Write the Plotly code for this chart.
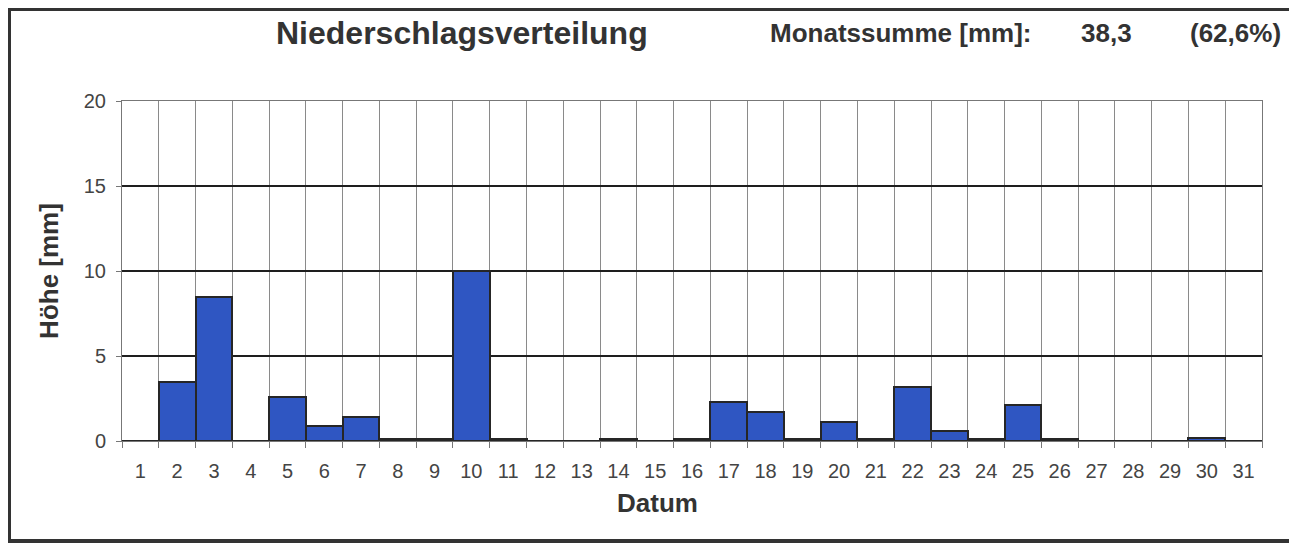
import plotly.graph_objects as go

days = list(range(1, 32))
day_labels = [str(d) for d in days]
rain_mm = [0.0, 3.5, 8.5, 0.0, 2.6, 0.9, 1.4, 0.1, 0.1, 10.0,
           0.1, 0.0, 0.0, 0.1, 0.0, 0.1, 2.3, 1.7, 0.1, 1.1,
           0.1, 3.2, 0.6, 0.1, 2.1, 0.1, 0.0, 0.0, 0.0, 0.2, 0.0]
y_ticks = [0, 5, 10, 15, 20]
title_text = "Niederschlagsverteilung"
sum_label = "Monatssumme [mm]:"
sum_value = "38,3"
sum_pct = "(62,6%)"
x_title = "Datum"
y_title = "Höhe [mm]"

OFF = 8  # page body margin
W, H = 1297 - OFF, 546 - OFF
L, R, T, B = 122 - OFF, 35, 101 - OFF, 105
pw, ph = W - L - R, H - T - B

def px(x):
    return (x - OFF - L) / pw

def py(y):
    return (H - B - (y - OFF)) / ph

FONT = "Liberation Sans, Arial, sans-serif"
TXT = "#333"

fig = go.Figure()
# invisible trace on yaxis2 so its grid renders
fig.add_trace(go.Scatter(x=[days[0]], y=[0], yaxis="y2", mode="markers",
                         marker=dict(opacity=0), showlegend=False, hoverinfo="skip"))
fig.add_trace(go.Bar(
    x=days, y=rain_mm, width=1.0,
    marker=dict(color="#2f56c2", line=dict(color="#262626", width=2)),
    showlegend=False, hoverinfo="x+y",
))

fig.update_layout(
    width=W, height=H,
    margin=dict(l=L, r=R, t=T, b=B),
    paper_bgcolor="white", plot_bgcolor="white",
    font=dict(family=FONT, color=TXT),
    bargap=0,
    xaxis=dict(
        range=[0.5, 31.5], tickvals=days, ticktext=day_labels,
        showgrid=False, ticks="", tickfont=dict(size=20, color="#444"),
        ticklabelstandoff=12,
        showline=True, linecolor="#777", linewidth=1, mirror=True,
        minor=dict(tick0=0.5, dtick=1, showgrid=True, gridcolor="#8a8a8a",
                   gridwidth=1, ticks="outside", ticklen=6, tickcolor="#777"),
        zeroline=False,
    ),
    yaxis=dict(
        range=[0, 20], tickvals=y_ticks, ticktext=[str(v) for v in y_ticks],
        showgrid=False, ticks="outside", ticklen=5, tickcolor="#777",
        tickfont=dict(size=20, color="#444"), ticklabelstandoff=6,
        showline=True, linecolor="#777", linewidth=1, mirror=True,
        title=dict(text=f"<b>{y_title}</b>", font=dict(size=26, color="#333"), standoff=17),
        zeroline=False,
    ),
    yaxis2=dict(
        range=[0, 20], overlaying="y", tickvals=y_ticks[1:-1],
        showgrid=True, gridcolor="#1e1e1e", gridwidth=2,
        showticklabels=False, ticks="", zeroline=False, showline=False,
    ),
)

fig.update_layout(shapes=[dict(
    type="rect", xref="paper", yref="paper",
    x0=px(OFF + 1), x1=px(1292), y0=py(541), y1=py(OFF + 1),
    line=dict(color="#333333", width=4), fillcolor="rgba(0,0,0,0)", layer="above",
)])

ann = dict(xref="paper", yref="paper", showarrow=False, yanchor="middle")
fig.add_annotation(text=f"<b>{title_text}</b>", x=px(462), y=py(33), xanchor="center",
                   font=dict(size=32, color="#333"), **ann)
fig.add_annotation(text=f"<b>{sum_label}</b>", x=px(900), y=py(33), xanchor="center",
                   font=dict(size=26, color="#333"), **ann)
fig.add_annotation(text=f"<b>{sum_value}</b>", x=px(1106), y=py(33), xanchor="center",
                   font=dict(size=26, color="#333"), **ann)
fig.add_annotation(text=f"<b>{sum_pct}</b>", x=px(1235), y=py(33), xanchor="center",
                   font=dict(size=26, color="#333"), **ann)
fig.add_annotation(text=f"<b>{x_title}</b>", x=px(657), y=py(503), xanchor="center",
                   font=dict(size=26, color="#333"), **ann)

fig.write_html("out.html")
